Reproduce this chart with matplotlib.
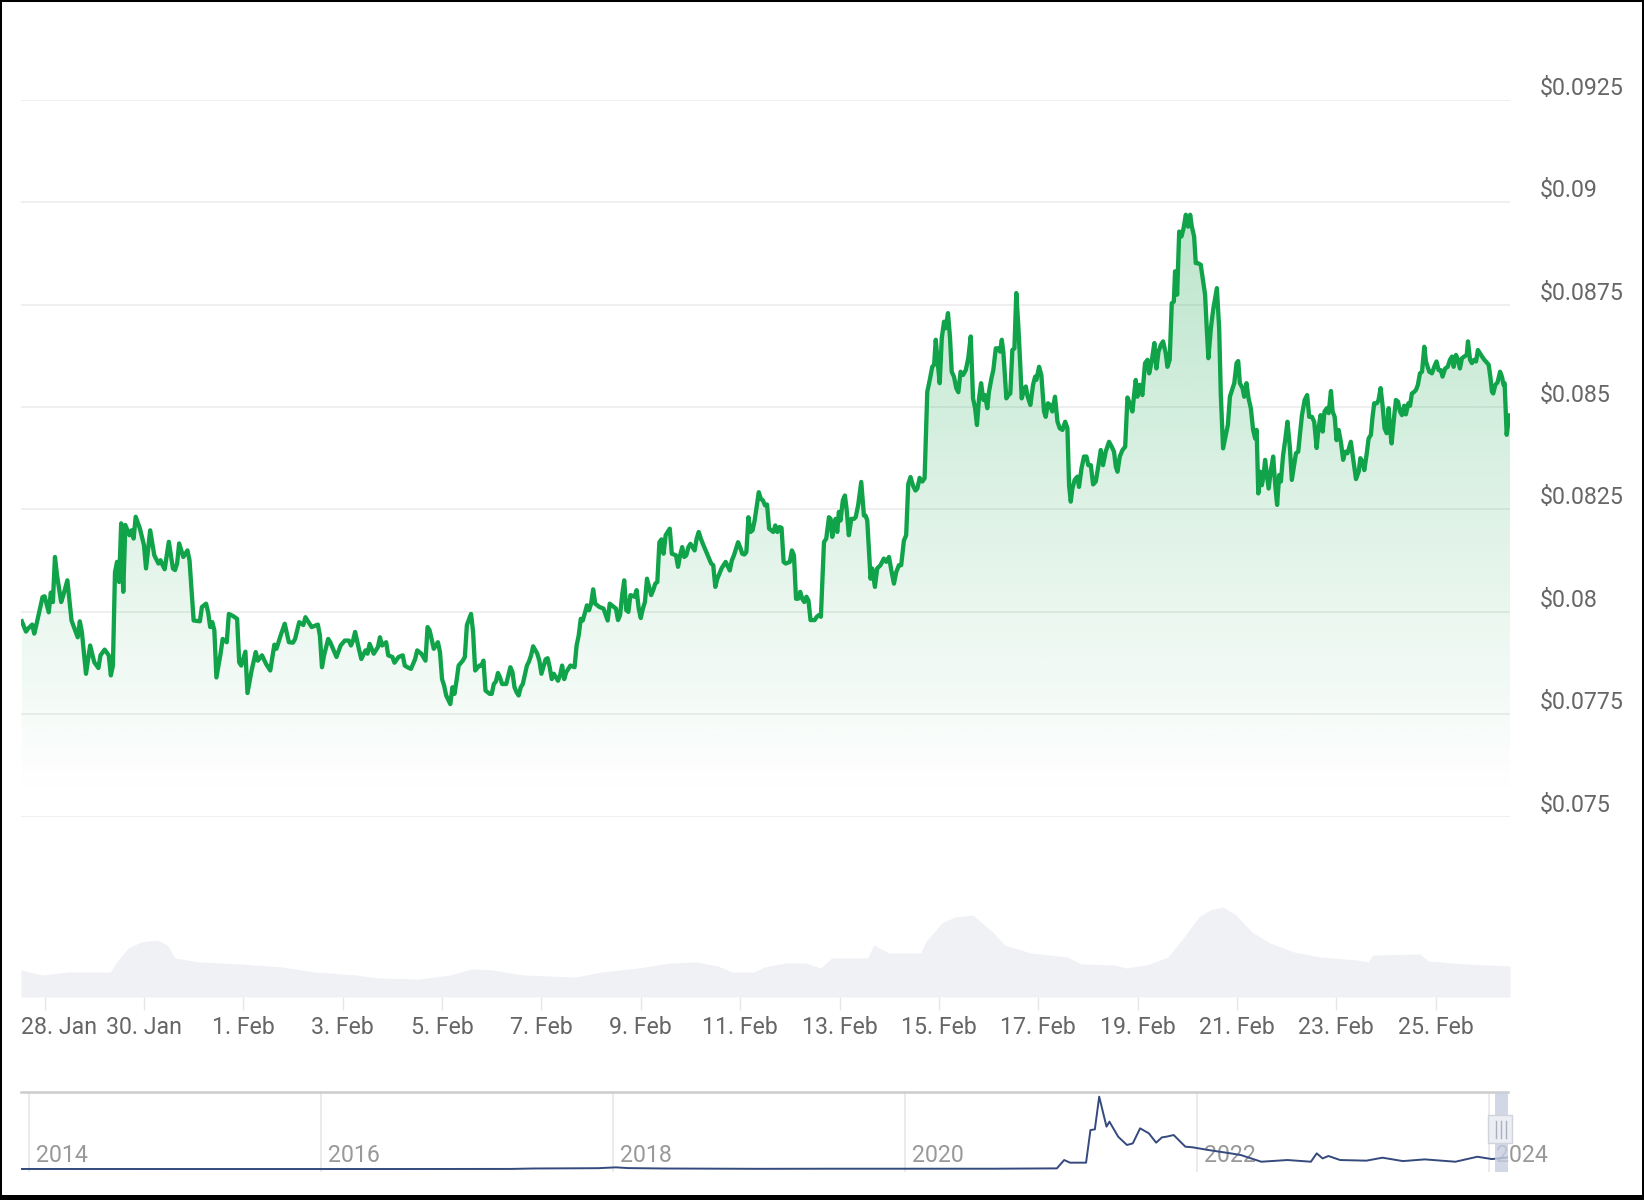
import numpy as np
import pandas as pd
import matplotlib
matplotlib.use('Agg')
import matplotlib.pyplot as plt
import matplotlib.dates as mdates
import matplotlib.transforms as mtransforms
from matplotlib.patches import PathPatch, Rectangle
from matplotlib.colors import to_rgb

plt.rcParams['font.family'] = ['Roboto', 'DejaVu Sans']

###
# data

start = pd.Timestamp('2024-01-28 00:00')

# hours since 28 Jan 00:00 and price in USD
price_hours = [
    -11, -9, -8, -6, -5, -4, -1, 0, 2, 3, 4, 5, 6, 8, 9, 11, 13, 16, 17, 18, 20, 22, 24, 26, 27, 29,
    31, 32, 33, 34, 35, 36, 37, 38, 39, 41, 42, 43, 44, 46, 48, 49, 51, 53, 55, 56, 57, 58, 60, 62,
    63, 64, 65, 67, 69, 70, 72, 75, 76, 78, 79, 80, 81, 82, 83, 85, 86, 88, 89, 91, 93, 94, 95, 97,
    98, 100, 102, 103, 105, 107, 109, 111, 112, 114, 116, 118, 120, 121, 123, 125, 126, 129,
    132, 133, 134, 135, 137, 138, 140, 141, 143, 145, 147, 148, 149, 150, 152, 153, 155, 156, 157,
    159, 161, 162, 163, 165, 166, 168, 169, 171, 173, 174, 176, 177, 179, 180, 182, 184, 185, 186,
    188, 190, 191, 192, 193, 194, 196, 197, 198, 199, 200, 202, 203, 204, 206, 207, 208, 210, 211,
    212, 213, 215, 216, 217, 218, 219, 220, 221, 223, 224, 225, 226, 227, 228, 229, 230, 231, 233,
    234, 235, 236, 238, 239, 240, 242, 243, 244, 245, 246, 248, 249, 250, 251, 252, 254, 256, 257,
    258, 259, 260, 262, 263, 264, 265, 266, 268, 270, 272, 273, 275,
    276, 277, 278, 279, 280, 281, 282, 283, 285, 286, 287, 288, 289, 290, 291, 293, 294, 295, 296,
    297, 298, 299, 300, 301, 302, 303, 305, 306, 307, 308, 309, 310, 311, 312, 314, 315, 316, 317,
    318, 320, 322, 323, 324, 325, 327, 328, 329, 331, 332, 333, 335, 336, 337, 338, 339, 340, 341,
    342, 343, 345, 346, 347, 348, 349, 350, 351, 352, 353, 354, 355, 356, 357, 358, 360, 361, 362,
    363, 364, 365, 366, 367, 368, 369, 370, 372, 373, 374, 375, 376.5, 377.6, 378.9, 379.7, 380.5,
    381.3, 382.1, 382.9, 383.7, 384.5, 385.6, 386.6, 387.4, 388.5, 389.7, 391.0, 391.8, 393.0,
    394.5, 395.8, 396.6, 397.4, 399.0, 399.8, 401.1, 402.2, 403.8, 405.4, 406.6, 407.9, 409.2,
    410.3, 411.4, 412.7, 413.8, 415.1, 416.2, 417.2, 418.3, 419.5, 420.7,
    421.6, 422.7, 424.0, 425.1, 426.4, 427.6, 428.8, 429.7, 430.5, 431.4, 432.4, 433.4, 434.5,
    435.3, 436.4, 437.4, 438.2, 439.3, 440.4, 441.4, 442.5, 443.7, 445.0, 446.2, 447.4, 448.5,
    449.5, 450.4, 451.4, 452.4, 453.5, 454.3, 455.4, 456.2, 457.4, 458.3, 459.5, 460.6, 461.6,
    462.4, 463.2, 464.6, 465.6, 466.5, 467.5, 468.5, 469.4, 470.4, 471.4, 472.0, 473.2, 474.0,
    474.9, 476.2, 477.5, 478.5, 479.1, 480.4, 481.5, 482.8, 483.6, 484.7, 485.7, 486.8, 488.1,
    489.3, 490.4, 491.7, 493.0, 494.1, 494.9, 495.7, 496.5, 497.6, 498.9, 499.7, 500.9, 502.1,
    503.3, 504.2, 505.4, 506.5, 507.8, 509.1, 510.2, 511.3, 512.6, 514.2, 515.5, 516.6, 517.5,
    518.3, 519.4, 520.7, 522.0, 523.1, 524.2, 525.5, 526.3, 527.1, 527.9, 529.1, 530.3, 531.6,
    532.8, 533.6, 534.8, 536.1, 537.1, 538.1, 539.2, 540.3, 541.6, 542.4, 543.5, 544.5, 545.5,
    546.1, 547.1, 548.1, 549.2, 550.2, 551.3, 552.4, 553.4, 554.2, 555.3, 556.1, 557.1, 558.5,
    559.7, 560.6, 561.4, 562.2, 563.4, 564.5, 566.3,
    567.4, 568.2, 569.3, 570.6, 571.6, 572.6, 573.9, 574.7, 575.8, 576.6, 577.4, 578.7, 579.5,
    580.6, 581.6, 582.7, 583.8, 584.8, 585.5, 586.3, 587.2, 588.0, 588.8, 589.6, 590.3, 591.3,
    592.4, 593.5, 594.5, 595.4, 596.4, 597.2, 598.3, 599.3, 600.4, 601.6, 602.5, 603.5, 604.5,
    605.6, 606.4, 607.4, 608.7, 609.9, 610.9, 612.2, 613.3, 614.5, 615.4, 616.4, 617.4, 618.3,
    619.4, 620.3, 621.4, 622.2, 623.2, 624.1, 625.1, 626.2, 627.3, 628.3, 629.4, 631.0, 632.2,
    633.5, 634.8, 635.6, 636.7, 637.5, 638.6, 639.6, 640.7, 641.5, 642.3, 643.6, 644.4, 645.4,
    646.4, 647.3, 648.3, 649.3, 649.9, 650.7, 652.0, 652.8, 653.8, 654.7, 655.7, 656.8, 657.6,
    658.8, 659.6, 660.5, 661.7, 662.5, 663.4, 664.4, 665.4, 666.5, 667.3, 668.9, 670.2, 671.3,
    672.4, 673.4, 674.5, 675.3, 676.6, 677.8, 678.9, 679.9, 680.7, 681.8, 682.8, 683.7, 684.7,
    685.8, 687.0, 687.6, 688.6, 689.5, 690.5, 691.5, 692.4, 693.4, 694.4, 695.5, 696.6, 697.6,
    698.4, 699.2, 699.8, 700.8, 701.9, 703.1, 704.0, 704.8, 705.3, 706.3, 706.9, 707.6, 707.9,
]
price_values = [
    0.07977, 0.07952, 0.07959, 0.07969, 0.07947, 0.07968, 0.08036, 0.08038, 0.07999, 0.08047,
    0.08024, 0.08134, 0.08089, 0.08024, 0.0804, 0.08077, 0.07979, 0.07938, 0.07977, 0.07951,
    0.07849, 0.07918, 0.07877, 0.07863, 0.07894, 0.07908, 0.07894, 0.07845, 0.07869, 0.08097,
    0.08122, 0.08073, 0.08216, 0.08049, 0.08212, 0.08187, 0.08199, 0.08179, 0.08232, 0.08204,
    0.08163, 0.08106, 0.08199, 0.08138, 0.08118, 0.08126, 0.08114, 0.08104, 0.08171, 0.08106,
    0.08102, 0.08118, 0.08167, 0.08134, 0.0815, 0.08126, 0.07979, 0.07977, 0.08012, 0.0802,
    0.07999, 0.07963, 0.07975, 0.07955, 0.0784, 0.07898, 0.07934, 0.07926, 0.07995, 0.0799,
    0.07983, 0.07877, 0.07869, 0.07903, 0.07802, 0.07857, 0.07902, 0.07881, 0.07894, 0.07873,
    0.07857, 0.0792, 0.0791, 0.07942, 0.07971, 0.07926, 0.07925, 0.07934, 0.07975, 0.07968,
    0.07987, 0.07963,
    0.07969, 0.07942, 0.07865, 0.07894, 0.07934, 0.07926, 0.07902, 0.0789, 0.07918, 0.0793,
    0.0793, 0.07918, 0.0793, 0.07951, 0.07906, 0.07885, 0.07906, 0.07898, 0.07922, 0.07898,
    0.07914, 0.07938, 0.07918, 0.07926, 0.07894, 0.0789, 0.07876, 0.0789, 0.07894, 0.07869,
    0.07863, 0.07861, 0.07885, 0.07906, 0.07898, 0.07881, 0.07963, 0.07955, 0.0791, 0.07926,
    0.07902, 0.07836, 0.0782, 0.07796, 0.07775, 0.07816, 0.078, 0.07832, 0.07869, 0.07881,
    0.0789, 0.07968, 0.07995, 0.07951, 0.07857, 0.07869, 0.07869, 0.07881, 0.07808, 0.078,
    0.078, 0.07824, 0.0783, 0.07851, 0.0784, 0.07824, 0.07824, 0.07845, 0.07865, 0.07853,
    0.07816, 0.07804, 0.07796, 0.07816, 0.07824, 0.07869, 0.07879, 0.07894, 0.07916, 0.07898,
    0.07881, 0.07849, 0.07884, 0.07887, 0.07865, 0.07836, 0.07849, 0.07832, 0.07845, 0.07869,
    0.07836, 0.07853, 0.07869, 0.07865, 0.07918, 0.07942, 0.07983, 0.07979, 0.08016, 0.08004,
    0.0802, 0.08055, 0.0802, 0.08012, 0.08008, 0.07979, 0.0802, 0.08012,
    0.08008, 0.0798, 0.07992, 0.08041, 0.08077, 0.08004, 0.08, 0.08041, 0.08037, 0.08053,
    0.08008, 0.07985, 0.08008, 0.08024, 0.08081, 0.08041, 0.08053, 0.08069, 0.08073, 0.0817,
    0.08177, 0.08142, 0.08187, 0.08195, 0.08203, 0.08142, 0.08138, 0.0811, 0.08138, 0.08158,
    0.08134, 0.08138, 0.08158, 0.08166, 0.0815, 0.08179, 0.08195, 0.08179, 0.08166, 0.08142,
    0.08118, 0.08114, 0.08061, 0.08081, 0.08106, 0.08114, 0.08122, 0.08101, 0.08126, 0.08138,
    0.0817, 0.08158, 0.08142, 0.0814, 0.08146, 0.08231, 0.08195, 0.08199, 0.08223, 0.08292,
    0.08276, 0.08272, 0.0826, 0.08262, 0.08203, 0.08199, 0.08195, 0.08211, 0.08195, 0.08207,
    0.08205, 0.08122, 0.08118, 0.08122, 0.0815, 0.08138, 0.08032, 0.08032, 0.08049, 0.08032,
    0.08024, 0.08037, 0.08028, 0.0798, 0.0798, 0.07988, 0.07992, 0.07988, 0.0817, 0.08179,
    0.08231, 0.08227, 0.08183, 0.08211, 0.08227, 0.08195, 0.08244, 0.08223, 0.08272, 0.08284,
    0.08252, 0.08187, 0.08227, 0.08227, 0.08231, 0.0826, 0.08317, 0.08235, 0.08235, 0.08223,
    0.08081, 0.08106, 0.08061, 0.08106, 0.08114, 0.0813, 0.08122, 0.08134, 0.08097, 0.08069,
    0.08097, 0.08114, 0.08114, 0.08174, 0.08187, 0.08312, 0.08329, 0.08308, 0.08296,
    0.08301, 0.08327, 0.08318, 0.08326, 0.08537, 0.08566, 0.08598, 0.08603, 0.08664, 0.08611,
    0.08558, 0.08668, 0.08708, 0.08692, 0.08729, 0.08668, 0.08586, 0.08574, 0.08546, 0.08536,
    0.08586, 0.08578, 0.0859, 0.08619, 0.08672, 0.08521, 0.08497, 0.08456, 0.08521, 0.08558,
    0.08517, 0.08529, 0.08497, 0.08537, 0.0857, 0.0859, 0.08643, 0.08643, 0.08635, 0.08664,
    0.08631, 0.08521, 0.08529, 0.08533, 0.08639, 0.08643, 0.08778, 0.08696, 0.08594, 0.08521,
    0.08542, 0.0855, 0.08525, 0.08505, 0.08554, 0.08574, 0.08566, 0.08598, 0.08578, 0.08489,
    0.08476, 0.08509, 0.08505, 0.08489, 0.08525, 0.08464, 0.08448, 0.08444, 0.08464, 0.08448,
    0.08309, 0.08269, 0.08301, 0.08322, 0.0833, 0.08305, 0.0835, 0.08379, 0.08379, 0.08358,
    0.08358, 0.08311, 0.08318, 0.08358, 0.08395, 0.08358, 0.08391, 0.08415, 0.08403, 0.08391,
    0.08354, 0.08342, 0.08379, 0.08395, 0.08403, 0.08523, 0.08509, 0.08489, 0.08529, 0.08566,
    0.08525, 0.08554, 0.08529, 0.08607, 0.08615, 0.08582, 0.08611, 0.08656, 0.08594, 0.08635,
    0.08651, 0.0866, 0.08631, 0.08598, 0.08615, 0.08753, 0.08757, 0.08831, 0.08774, 0.08928,
    0.08916, 0.08936, 0.08969, 0.0894, 0.08969, 0.0894, 0.08916, 0.08851, 0.08851, 0.08847,
    0.08806, 0.08774, 0.08692, 0.08619, 0.08692, 0.08737, 0.0879,
    0.08692, 0.08529, 0.08399, 0.08432, 0.08456, 0.08525, 0.08546, 0.08558, 0.08607, 0.08612,
    0.08558, 0.08546, 0.08525, 0.08558, 0.08521, 0.08497, 0.08444, 0.08423, 0.08444, 0.08289,
    0.08342, 0.08309, 0.0833, 0.08371, 0.08342, 0.08301, 0.08346, 0.08379, 0.08309, 0.08261,
    0.08334, 0.08318, 0.08383, 0.08419, 0.08464, 0.08399, 0.08322, 0.08354, 0.08387, 0.08391,
    0.08432, 0.0848, 0.08517, 0.08529, 0.08476, 0.08476, 0.08464, 0.084, 0.08448, 0.0848,
    0.0844, 0.08489, 0.08497, 0.08485, 0.08539, 0.08489, 0.08476, 0.08419, 0.08444, 0.08415,
    0.08371, 0.08391, 0.08387, 0.08415, 0.08371, 0.08324, 0.08342, 0.08375, 0.08366, 0.08346,
    0.08383, 0.08423, 0.08432, 0.08476, 0.08509, 0.08509, 0.08517, 0.08546, 0.08501, 0.08448,
    0.08436, 0.08497, 0.08448, 0.08411, 0.0848, 0.08517, 0.08513, 0.0849, 0.0848, 0.08503,
    0.08482, 0.08509, 0.08503, 0.08533, 0.08537, 0.08542, 0.08554, 0.08582, 0.08586, 0.08647,
    0.08611, 0.08586, 0.08582, 0.08598, 0.08611, 0.0859, 0.0859, 0.08574, 0.08594, 0.08598,
    0.08615, 0.08623, 0.08598, 0.08627, 0.08615, 0.08594, 0.08619, 0.08623, 0.08627, 0.0866,
    0.08615, 0.08607, 0.08615, 0.08611, 0.08639, 0.08631, 0.08623, 0.08615, 0.08609, 0.08603,
    0.08574, 0.08537, 0.08533, 0.08554, 0.0856, 0.08586, 0.08574, 0.08554, 0.08558, 0.08432,
    0.08456, 0.0848, 0.08476,
]

# trading volume (no scale shown, relative units)
vol_hours = [-11.4, -1.2, 11.4, 31.7, 35.5, 40.4, 46.6, 54.4, 59.2, 63.1, 74.7, 95.0, 114.8, 130.3,
             150.6, 160.7, 180.6, 196.0, 206.2, 216.3, 231.3, 256.4, 269.0, 286.9, 301.9, 315.0,
             325.1, 332.3, 342.5, 347.8, 358.0, 367.6, 374.9, 380.2, 397.6, 400.5, 407.8, 423.2,
             425.6, 433.4, 439.7, 448.4, 452.3, 458.5, 463.8, 476.4, 494.3, 500.6, 517.0, 522.4,
             532.5, 542.7, 550.4, 557.6, 562.9, 569.2, 575.5, 583.2, 591.9, 603.5, 616.1, 634.0,
             639.3, 641.7, 664.4, 668.3, 687.1, 707.9]
vol_values = [270, 220, 250, 250, 370, 490, 550, 570, 520, 390, 350, 330, 300, 250, 220, 190, 180,
              220, 280, 270, 220, 200, 250, 290, 340, 350, 310, 250, 250, 300, 340, 340, 290, 390,
              390, 520, 440, 440, 550, 740, 800, 820, 750, 640, 520, 440, 400, 330, 320, 290, 320,
              400, 600, 800, 870, 900, 820, 650, 540, 450, 400, 370, 350, 420, 430, 360, 330, 310]

x_tick_dates = ['2024-01-28', '2024-01-30', '2024-02-01', '2024-02-03', '2024-02-05',
                '2024-02-07', '2024-02-09', '2024-02-11', '2024-02-13', '2024-02-15',
                '2024-02-17', '2024-02-19', '2024-02-21', '2024-02-23', '2024-02-25']
y_ticks = [0.075, 0.0775, 0.08, 0.0825, 0.085, 0.0875, 0.09, 0.0925]
y_tick_labels = ['$0.075', '$0.0775', '$0.08', '$0.0825', '$0.085', '$0.0875', '$0.09', '$0.0925']

# navigator: whole price history
nav_year = [2013.95, 2015.0, 2016.5, 2017.3, 2017.45, 2017.9, 2018.02, 2018.1, 2018.35, 2019.0,
            2019.5, 2020.6, 2021.0, 2021.04, 2021.09, 2021.13, 2021.24, 2021.27, 2021.30, 2021.33,
            2021.38, 2021.40, 2021.46, 2021.52, 2021.56, 2021.61, 2021.67, 2021.72, 2021.76,
            2021.79, 2021.84, 2021.92, 2021.97, 2022.08, 2022.23, 2022.30, 2022.44, 2022.62,
            2022.78, 2022.82, 2022.86, 2022.90, 2022.98, 2023.16, 2023.27, 2023.41, 2023.56,
            2023.77, 2023.92, 2024.02, 2024.13]
nav_price = [0.0005, 0.0002, 0.0002, 0.001, 0.005, 0.008, 0.016, 0.009, 0.005, 0.002, 0.003, 0.003,
             0.006, 0.006, 0.085, 0.06, 0.06, 0.368, 0.374, 0.683, 0.40, 0.447, 0.305, 0.227, 0.242,
             0.384, 0.337, 0.249, 0.299, 0.305, 0.321, 0.211, 0.205, 0.179, 0.148, 0.132, 0.069,
             0.085, 0.069, 0.148, 0.10, 0.123, 0.085, 0.079, 0.107, 0.075, 0.091, 0.069, 0.116,
             0.094, 0.11]
nav_year_ticks = [2014, 2016, 2018, 2020, 2022, 2024]

###
# plotting

W, H = 1644, 1200
green = '#10a349'
txt_col = '#666666'
fs = 16.7

t_price = mdates.date2num(start + pd.to_timedelta(np.array(price_hours, dtype=float), unit='h'))
t_vol = mdates.date2num(start + pd.to_timedelta(np.array(vol_hours, dtype=float), unit='h'))
t0 = mdates.date2num(start + pd.Timedelta(hours=-11.4))
t1 = mdates.date2num(start + pd.Timedelta(hours=707.9))

fig = plt.figure(figsize=(W / 100, H / 100), dpi=100)
ax = fig.add_axes([21 / W, 1 - 816.8 / H, 1489 / W, 717.2 / H])
axv = fig.add_axes([21 / W, 1 - 997 / H, 1489 / W, 167 / H])
axn = fig.add_axes([21 / W, 1 - 1172 / H, 1487 / W, 80 / H])

# price line with gradient fill
ax.plot(t_price, price_values, color=green, lw=3.1, solid_joinstyle='round', zorder=3)
poly = ax.fill_between(t_price, price_values, 0.075, facecolor='none', edgecolor='none')
clip = PathPatch(poly.get_paths()[0], transform=ax.transData, facecolor='none', edgecolor='none')
ax.add_patch(clip)
top = max(price_values)
levels = np.linspace(0.075, top, 256)
grad = np.zeros((256, 1, 4))
grad[..., :3] = to_rgb(green)
grad[:, 0, 3] = 0.28 * np.clip((levels - 0.0755) / (top - 0.0755), 0, 1)
im = ax.imshow(grad, extent=[t0, t1, 0.075, top], origin='lower', aspect='auto', zorder=2)
im.set_clip_path(clip)

ax.set_xlim(t0, t1)
ax.set_ylim(0.075, 0.0925)
ax.set_yticks(y_ticks)
ax.set_yticklabels(y_tick_labels)
ax.yaxis.tick_right()
ax.tick_params(axis='y', length=0, pad=21.6, labelsize=fs, labelcolor=txt_col)
ax.tick_params(axis='x', bottom=False, labelbottom=False)
for lab in ax.get_yticklabels():
    lab.set_verticalalignment('bottom')
ax.grid(axis='y', color='#ebebeb', lw=1.1)
ax.set_axisbelow(True)
for s in ax.spines.values():
    s.set_visible(False)

# volume
axv.fill_between(t_vol, vol_values, 0, color='#f0f1f5', lw=0)
axv.set_xlim(t0, t1)
axv.set_ylim(0, 1670)
axv.set_yticks([])
tick_dt = pd.to_datetime(x_tick_dates)
axv.set_xticks(mdates.date2num(tick_dt))
axv.set_xticklabels([f'{d.day}. {d:%b}' for d in tick_dt])
axv.tick_params(axis='x', length=9.4, width=1, color='#e6e6e6', pad=4.5,
                labelsize=fs, labelcolor=txt_col)
for s in axv.spines.values():
    s.set_visible(False)
first = axv.get_xticklabels()[0]
first.set_horizontalalignment('left')
first.set_transform(first.get_transform()
                    + mtransforms.ScaledTranslation(-23.5 / 100, 0, fig.dpi_scale_trans))

# navigator
axn.set_xlim(2013.945, 2024.13)
axn.set_ylim(-0.028, 0.727)
for yr in nav_year_ticks:
    axn.axvline(yr, color='#e6e6e6', lw=1.1, zorder=1)
    axn.text(yr + 0.05, 0.2, str(yr), transform=axn.get_xaxis_transform(), ha='left',
             va='center', fontsize=fs, color='#999999', zorder=2)
axn.plot(nav_year, nav_price, color='#34497d', lw=1.4, zorder=3)
axn.set_xticks([])
axn.set_yticks([])
for s in axn.spines.values():
    s.set_visible(False)
axn.spines['top'].set_visible(True)
axn.spines['top'].set_color('#cccccc')
axn.spines['top'].set_linewidth(1.8)
# selected range mask and handle
axn.add_patch(Rectangle((2024.04, 0), 0.09, 1, transform=axn.get_xaxis_transform(),
                        facecolor='#c7cee0', edgecolor='none', alpha=0.8, zorder=4, clip_on=False))
axn.add_patch(Rectangle((2023.99, 0.36), 0.17, 0.35, transform=axn.get_xaxis_transform(),
                        facecolor='#eceef3', edgecolor='#cfd3dc', lw=1, zorder=5, clip_on=False))
for hx in [2024.045, 2024.08, 2024.115]:
    axn.plot([hx, hx], [0.43, 0.64], transform=axn.get_xaxis_transform(), color='#a9b0c0',
             lw=1, zorder=6, clip_on=False)

# frame around the screenshot
fig.patches.append(Rectangle((0, 0), 1, 1, transform=fig.transFigure, fill=False,
                             edgecolor='black', lw=2.9))
fig.patches.append(Rectangle((0, 0), 1, 5 / H, transform=fig.transFigure, facecolor='black',
                             edgecolor='none'))

plt.savefig('out.png', dpi=100)
plt.close(fig)
